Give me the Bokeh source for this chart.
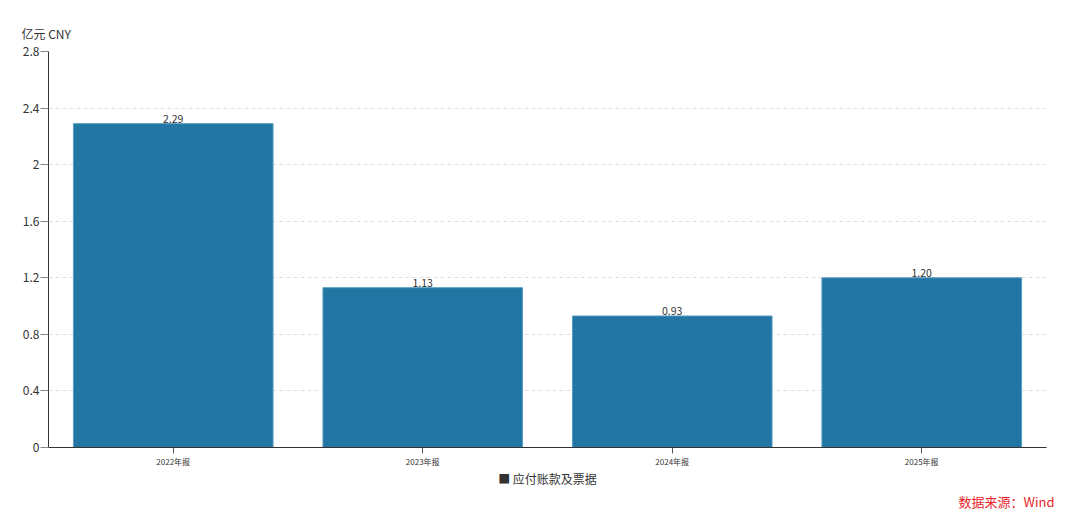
from bokeh.plotting import figure
from bokeh.models import ColumnDataSource, FixedTicker, LabelSet, Range1d, FactorRange, Title
from bokeh.embed import file_html
from bokeh.resources import INLINE
from bokeh.core.properties import value

categories = ["2022年报", "2023年报", "2024年报", "2025年报"]
values = [2.29, 1.13, 0.93, 1.20]
value_labels = ["2.29", "1.13", "0.93", "1.20"]
series_name = "应付账款及票据"
y_ticks = [0, 0.4, 0.8, 1.2, 1.6, 2.0, 2.4, 2.8]
y_tick_labels = ["0", "0.4", "0.8", "1.2", "1.6", "2", "2.4", "2.8"]
unit_text = "亿元  CNY"
source_text = "数据来源：Wind"

FONT = "Noto Sans CJK SC"
BAR = "#2276a3"

src = ColumnDataSource(dict(cat=categories, val=values, lab=value_labels))

p = figure(x_range=FactorRange(*categories, range_padding=0), y_range=Range1d(0, 2.8),
           width=1072, height=519, output_backend="svg", toolbar_location=None,
           min_border_left=48, min_border_right=26, min_border_top=51, min_border_bottom=72)
p.outline_line_color = None
p.background_fill_color = "white"

p.title.text = unit_text
p.title.align = "left"
p.title.offset = -27
p.title.standoff = 20
p.title.text_font = FONT
p.title.text_font_size = "12px"
p.title.text_font_style = "normal"
p.title.text_color = "#333333"

r = p.vbar(x="cat", top="val", width=0.8, source=src, fill_color=BAR,
           line_color="#5a9cc2", line_width=1)

labels = LabelSet(x="cat", y="val", text="lab", source=src, text_align="center",
                  text_baseline="bottom", text_font=value(FONT), text_font_size="10.5px",
                  text_color="#333333", y_offset=1)
p.add_layout(labels)

p.xgrid.grid_line_color = None
p.ygrid.grid_line_color = "#e0e0e0"
p.ygrid.grid_line_dash = "4 3"
p.ygrid.ticker = FixedTicker(ticks=y_ticks)

p.yaxis.ticker = FixedTicker(ticks=y_ticks)
p.yaxis.major_label_overrides = {t: l for t, l in zip(y_ticks, y_tick_labels)}
p.yaxis.axis_line_color = "#333333"
p.yaxis.major_tick_line_color = "#888888"
p.yaxis.major_tick_out = 8
p.yaxis.major_tick_in = 0
p.yaxis.minor_tick_line_color = None
p.yaxis.major_label_text_font = FONT
p.yaxis.major_label_text_font_size = "12px"
p.yaxis.major_label_text_color = "#333333"
p.yaxis.major_label_standoff = 1

p.xaxis.axis_line_color = "#333333"
p.xaxis.major_tick_line_color = "#555555"
p.xaxis.major_tick_out = 6
p.xaxis.major_tick_in = 0
p.xaxis.minor_tick_line_color = None
p.xaxis.major_label_text_font = FONT
p.xaxis.major_label_text_font_size = "8px"
p.xaxis.major_label_text_color = "#333333"
p.xaxis.major_label_standoff = 2

# series key shown below the axis (legend row)
p.xaxis.axis_label = "■ " + series_name
p.xaxis.axis_label_text_font = FONT
p.xaxis.axis_label_text_font_size = "12px"
p.xaxis.axis_label_text_font_style = "normal"
p.xaxis.axis_label_text_color = "#333333"
p.xaxis.axis_label_standoff = 0

src_title = Title(text=source_text, align="right", offset=-8, standoff=0,
                  text_font=FONT, text_font_size="13px", text_font_style="normal",
                  text_color="#e8262a")
p.add_layout(src_title, "below")

open("out.html", "w").write(file_html(p, INLINE))
